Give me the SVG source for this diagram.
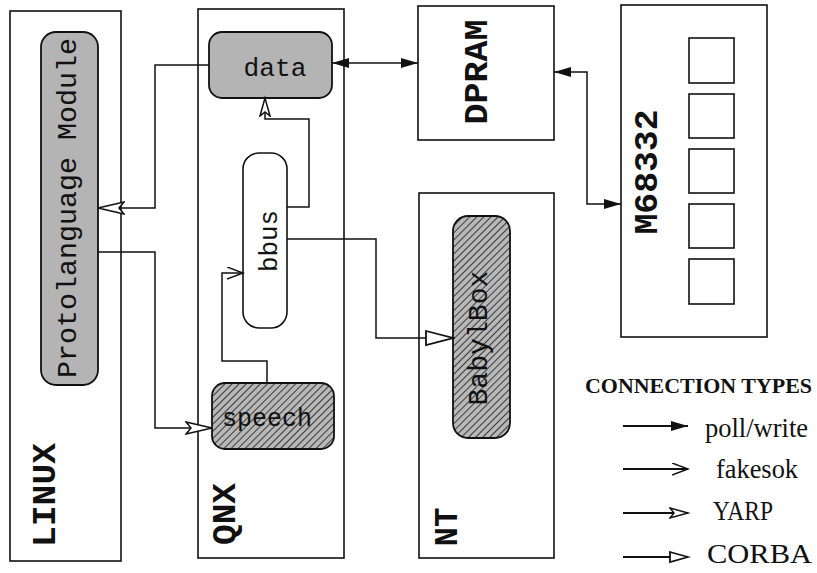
<svg xmlns="http://www.w3.org/2000/svg" width="817" height="573" viewBox="0 0 817 573">
<style>
.box{fill:none;stroke:#111;stroke-width:1.6}
.dot{fill:#b4b4b4;stroke:#111;stroke-width:1.8}
.hat{fill:url(#hatch);stroke:#111;stroke-width:1.8}
.plain{fill:#fff;stroke:#111;stroke-width:1.6}
.mono{font-family:"Liberation Mono","DejaVu Sans Mono",monospace;fill:#111}
.lbl{font-family:"Liberation Mono","DejaVu Sans Mono",monospace;font-weight:bold;fill:#111}
.leg{font-family:"Liberation Serif","Times New Roman",serif;fill:#111}
.con{fill:none;stroke:#111;stroke-width:1.5}
.lcon{fill:none;stroke:#111;stroke-width:2}
</style>
<defs>
<pattern id="hatch" width="5" height="5" patternUnits="userSpaceOnUse" patternTransform="rotate(45)">
<rect width="5" height="5" fill="#b8b8b8"/>
<line x1="0" y1="0" x2="0" y2="5" stroke="#2a2a2a" stroke-width="1.8"/>
</pattern>
<marker id="fill" markerUnits="userSpaceOnUse" markerWidth="18" markerHeight="12" refX="17" refY="5" orient="auto-start-reverse">
<path d="M0,0 L17,5 L0,10 z" fill="#111"/>
</marker>
<marker id="vee" markerUnits="userSpaceOnUse" markerWidth="18" markerHeight="14" refX="16" refY="6" orient="auto">
<path d="M0,0 L16,6 L0,12" fill="none" stroke="#111" stroke-width="1.5"/>
</marker>
<marker id="yarp" markerUnits="userSpaceOnUse" markerWidth="30" markerHeight="16" refX="27" refY="7" orient="auto">
<path d="M1,1 L27,7 L1,13 L6,7 z" fill="#fff" stroke="#111" stroke-width="1.5"/>
</marker>
<marker id="yarps" markerUnits="userSpaceOnUse" markerWidth="22" markerHeight="14" refX="19" refY="6" orient="auto">
<path d="M1,1 L19,6 L1,11 L5,6 z" fill="#fff" stroke="#111" stroke-width="1.5"/>
</marker>
<marker id="corba" markerUnits="userSpaceOnUse" markerWidth="30" markerHeight="18" refX="28" refY="8" orient="auto">
<path d="M1,1 L28,8 L1,15 z" fill="#fff" stroke="#111" stroke-width="1.8"/>
</marker>
<marker id="corbas" markerUnits="userSpaceOnUse" markerWidth="22" markerHeight="14" refX="19" refY="6" orient="auto">
<path d="M1,1 L19,6 L1,11 z" fill="#fff" stroke="#111" stroke-width="1.8"/>
</marker>
</defs>

<g id="linux">
<rect class="box" x="10" y="11" width="111" height="550"/>
<text class="lbl" font-size="34" text-anchor="middle" textLength="104" lengthAdjust="spacingAndGlyphs" transform="translate(55,495) rotate(-90)">LINUX</text>
</g>
<g id="protolanguage">
<rect class="dot" x="41" y="32" width="57" height="353" rx="15"/>
<text class="mono" font-size="27" text-anchor="middle" textLength="340" lengthAdjust="spacingAndGlyphs" transform="translate(76,208) rotate(-90)">Protolanguage Module</text>
</g>
<g id="qnx">
<rect class="box" x="198" y="9" width="146" height="549"/>
<text class="lbl" font-size="34" text-anchor="middle" textLength="62" lengthAdjust="spacingAndGlyphs" transform="translate(235,514) rotate(-90)">QNX</text>
</g>
<g id="data">
<rect class="dot" x="209" y="32" width="123" height="66" rx="13"/>
<text class="mono" font-size="26" text-anchor="middle" x="275" y="76" textLength="63" lengthAdjust="spacingAndGlyphs">data</text>
</g>
<g id="bbus">
<rect class="plain" x="243" y="153" width="44" height="175" rx="16"/>
<text class="mono" font-size="26" text-anchor="middle" textLength="62" lengthAdjust="spacingAndGlyphs" transform="translate(277,241) rotate(-90)">bbus</text>
</g>
<g id="speech">
<rect class="hat" x="212" y="383" width="122" height="66" rx="13"/>
<text class="mono" font-size="25" text-anchor="middle" x="267" y="426" textLength="90" lengthAdjust="spacingAndGlyphs">speech</text>
</g>
<g id="dpram">
<rect class="box" x="418" y="6" width="136" height="134"/>
<text class="lbl" font-size="34" text-anchor="middle" textLength="105" lengthAdjust="spacingAndGlyphs" transform="translate(487,72) rotate(-90)">DPRAM</text>
</g>
<g id="nt">
<rect class="box" x="419" y="193" width="135" height="365"/>
<text class="lbl" font-size="34" text-anchor="middle" textLength="39" lengthAdjust="spacingAndGlyphs" transform="translate(457,527) rotate(-90)">NT</text>
</g>
<g id="babylbox">
<rect class="hat" x="453" y="216" width="57" height="222" rx="15"/>
<text class="mono" font-size="27" text-anchor="middle" textLength="135" lengthAdjust="spacingAndGlyphs" transform="translate(487,338) rotate(-90)">BabylBox</text>
</g>
<g id="m68332">
<rect class="box" x="621" y="5" width="146" height="332"/>
<text class="lbl" font-size="34" text-anchor="middle" textLength="125" lengthAdjust="spacingAndGlyphs" transform="translate(657,172) rotate(-90)">M68332</text>
<rect class="box" x="689" y="38" width="45" height="45"/>
<rect class="box" x="689" y="94" width="45" height="44"/>
<rect class="box" x="689" y="149" width="45" height="44"/>
<rect class="box" x="689" y="204" width="45" height="44"/>
<rect class="box" x="689" y="259" width="45" height="45"/>
</g>

<g id="connectors">
<path class="con" d="M332,63 L418,63" marker-start="url(#fill)" marker-end="url(#fill)"/>
<path class="con" d="M554,72 L587,72 L587,204 L621,204" marker-start="url(#fill)" marker-end="url(#fill)"/>
<path class="con" d="M209,65 L155,65 L155,208 L98,208" marker-end="url(#yarp)"/>
<path class="con" d="M98,252 L155,252 L155,428 L212,428" marker-end="url(#yarp)"/>
<path class="con" d="M267,383 L267,361 L222,361 L222,273 L243,273" marker-end="url(#vee)"/>
<path class="con" d="M287,207 L309,207 L309,119 L265,119 L265,98" marker-end="url(#yarps)"/>
<path class="con" d="M287,239 L376,239 L376,338 L453,338" marker-end="url(#corba)"/>
</g>

<g id="legend">
<text class="leg" font-size="21" font-weight="bold" x="585" y="393" textLength="227" lengthAdjust="spacingAndGlyphs">CONNECTION TYPES</text>
<path class="lcon" d="M623,426 L688,426" marker-end="url(#fill)"/>
<text class="leg" font-size="27" x="705" y="437" textLength="103" lengthAdjust="spacingAndGlyphs">poll/write</text>
<path class="lcon" d="M623,469 L688,469" marker-end="url(#vee)"/>
<text class="leg" font-size="27" x="716" y="478" textLength="82" lengthAdjust="spacingAndGlyphs">fakesok</text>
<path class="lcon" d="M623,513 L688,513" marker-end="url(#yarps)"/>
<text class="leg" font-size="27" x="713" y="520" textLength="60" lengthAdjust="spacingAndGlyphs">YARP</text>
<path class="lcon" d="M623,557 L688,557" marker-end="url(#corbas)"/>
<text class="leg" font-size="27" x="707" y="563" textLength="105" lengthAdjust="spacingAndGlyphs">CORBA</text>
</g>
</svg>
